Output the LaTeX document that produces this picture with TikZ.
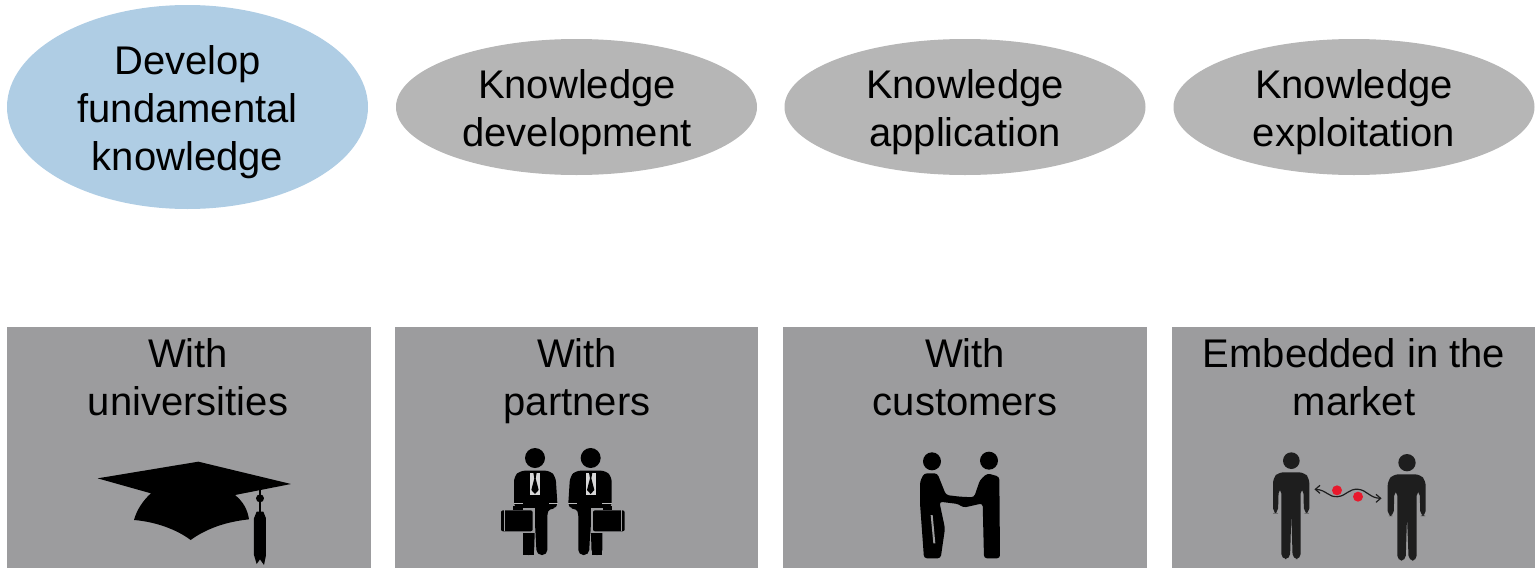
\documentclass[tikz,border=0pt]{standalone}
\usepackage{fontspec}
\setmainfont{Liberation Sans}
\usetikzlibrary{shapes.geometric}
\definecolor{ellblue}{HTML}{AFCDE4}
\definecolor{ellgray}{HTML}{B6B6B6}
\definecolor{boxgray}{HTML}{9C9C9E}
\definecolor{mandark}{HTML}{1E1E1E}
\definecolor{dotred}{HTML}{E8192C}
\tikzset{
  every node/.style={inner sep=0pt,outer sep=0pt},
  lbl/.style={font=\fontsize{40pt}{48pt}\selectfont,align=center,text=black},
  oval/.style={ellipse,minimum width=361pt,minimum height=136pt,fill=ellgray},
  panel/.style={fill=boxgray,anchor=north west,minimum height=241pt},
  zoomed/.style={x=0.33333pt,y=-0.33333pt},
}
\begin{document}
\begin{tikzpicture}[x=1pt,y=-1pt]
\useasboundingbox (0,0) rectangle (1535,568);
% ovals
\node[oval,fill=ellblue,minimum height=204pt] (o1) at (187.5,107) {};
\node[oval] (o2) at (576.5,107) {};
\node[oval] (o3) at (965,107) {};
\node[oval] (o4) at (1354,107) {};
\node[lbl] (t1) at (187.5,112) {Develop\\fundamental\\knowledge};
\node[lbl] (t2) at (577,112) {Knowledge\\development};
\node[lbl] (t3) at (965,112) {Knowledge\\application};
\node[lbl] (t4) at (1354,112) {Knowledge\\exploitation};
% panels
\node[panel,minimum width=364pt] (p1) at (7,327) {};
\node[panel,minimum width=363pt] (p2) at (395,327) {};
\node[panel,minimum width=364pt] (p3) at (783,327) {};
\node[panel,minimum width=363pt] (p4) at (1172,327) {};
\node[lbl] (q1) at (188,377) {With\\universities};
\node[lbl] (q2) at (577,381) {With\\partners};
\node[lbl] (q3) at (965,377) {With\\customers};
\node[lbl] (q4) at (1354,377) {Embedded in the\\market};
% mortarboard
\begin{scope}[shift={(80,440)},zoomed]
\fill[black] (53,115) -- (355,65) -- (633,132) -- (465,165)
  .. controls (490,185) and (503,210) .. (507,238)
  .. controls (440,245) and (380,265) .. (332,300)
  .. controls (290,268) and (225,245) .. (162,240)
  .. controls (170,210) and (190,180) .. (213,160) -- cycle;
\draw[black,line width=1.7pt] (540,145) -- (540,225);
\fill[black] (540,175) circle (12);
\fill[black] (530,215) -- (550,215) -- (558,235) -- (558,345) -- (552,375) -- (540,358) -- (530,372) -- (522,345) -- (522,235) -- cycle;
\end{scope}
% two business men
\begin{scope}[shift={(490,440)},zoomed]
\foreach \mx/\side in {0/1,1/-1}{
\begin{scope}[shift={(\mx*437,0)},xscale=\side]
\fill[black] (135,54) circle (30);
\fill[black,rounded corners=5pt] (72,205) -- (72,110) -- (90,92) -- (180,92) -- (197,110) -- (203,205) -- (178,205) -- (172,215) -- (172,345) -- (140,345) -- (135,250) -- (132,345) -- (100,345) -- (100,205) -- cycle;
\fill[boxgray!40!white] (120,98) -- (150,98) -- (150,165) -- (120,165) -- cycle;
\fill[black] (130,98) -- (140,98) -- (137,115) -- (146,150) -- (135,162) -- (124,150) -- (133,115) -- cycle;
\fill[boxgray!70!white] (72,190) rectangle (100,193);
\fill[boxgray!70!white] (176,190) rectangle (203,193);
\fill[boxgray] (28,204) rectangle (135,280);
\fill[black,rounded corners=2pt] (33,211) rectangle (128,274);
\fill[black] (70,198) rectangle (98,211);
\fill[boxgray] (41,211) rectangle (44,274);
\fill[black] (100,280) rectangle (132,345);
\end{scope}}
\end{scope}
% handshake
\begin{scope}[shift={(900,440)},zoomed]
\fill[black] (96,64) circle (27);
\fill[black] (267,62) circle (27);
\fill[black,rounded corners=3pt] (60,125) -- (72,100) -- (112,100) -- (138,165) -- (180,170) -- (222,172) -- (240,120) -- (262,100) -- (298,110) -- (300,355) -- (252,355) -- (248,190) -- (190,203) -- (175,192) -- (118,185) -- (135,265) -- (122,355) -- (72,355) -- (60,190) -- cycle;
\fill[boxgray] (92,225) -- (98,225) -- (106,310) -- (100,310) -- cycle;
\end{scope}
% market men
\begin{scope}[shift={(1260,440)},zoomed]
\fill[mandark] (94,62) circle (25);
\fill[mandark,rounded corners=5pt] (39,115) -- (55,97) -- (132,97) -- (148,115) -- (148,220) -- (132,220) -- (130,145) -- (122,145) -- (122,357) -- (98,357) -- (94,222) -- (90,357) -- (64,357) -- (64,145) -- (56,145) -- (54,220) -- (39,220) -- cycle;
\fill[mandark] (441,68) circle (26);
\fill[mandark,rounded corners=5pt] (383,122) -- (400,103) -- (480,103) -- (497,122) -- (497,228) -- (481,228) -- (479,152) -- (470,152) -- (470,362) -- (446,362) -- (441,228) -- (437,362) -- (412,362) -- (412,152) -- (403,152) -- (401,228) -- (383,228) -- cycle;
\draw[mandark,line width=1.2pt] (168,148) .. controls (200,150) and (205,172) .. (232,170)
  .. controls (260,168) and (265,145) .. (295,148)
  .. controls (320,150) and (330,175) .. (362,175);
\draw[mandark,line width=1.2pt] (180,136) -- (166,148) -- (180,160);
\draw[mandark,line width=1.2pt] (348,163) -- (362,175) -- (348,187);
\fill[dotred] (231,151) circle (15);
\fill[dotred] (294,170) circle (15);
\end{scope}
\end{tikzpicture}
\end{document}
